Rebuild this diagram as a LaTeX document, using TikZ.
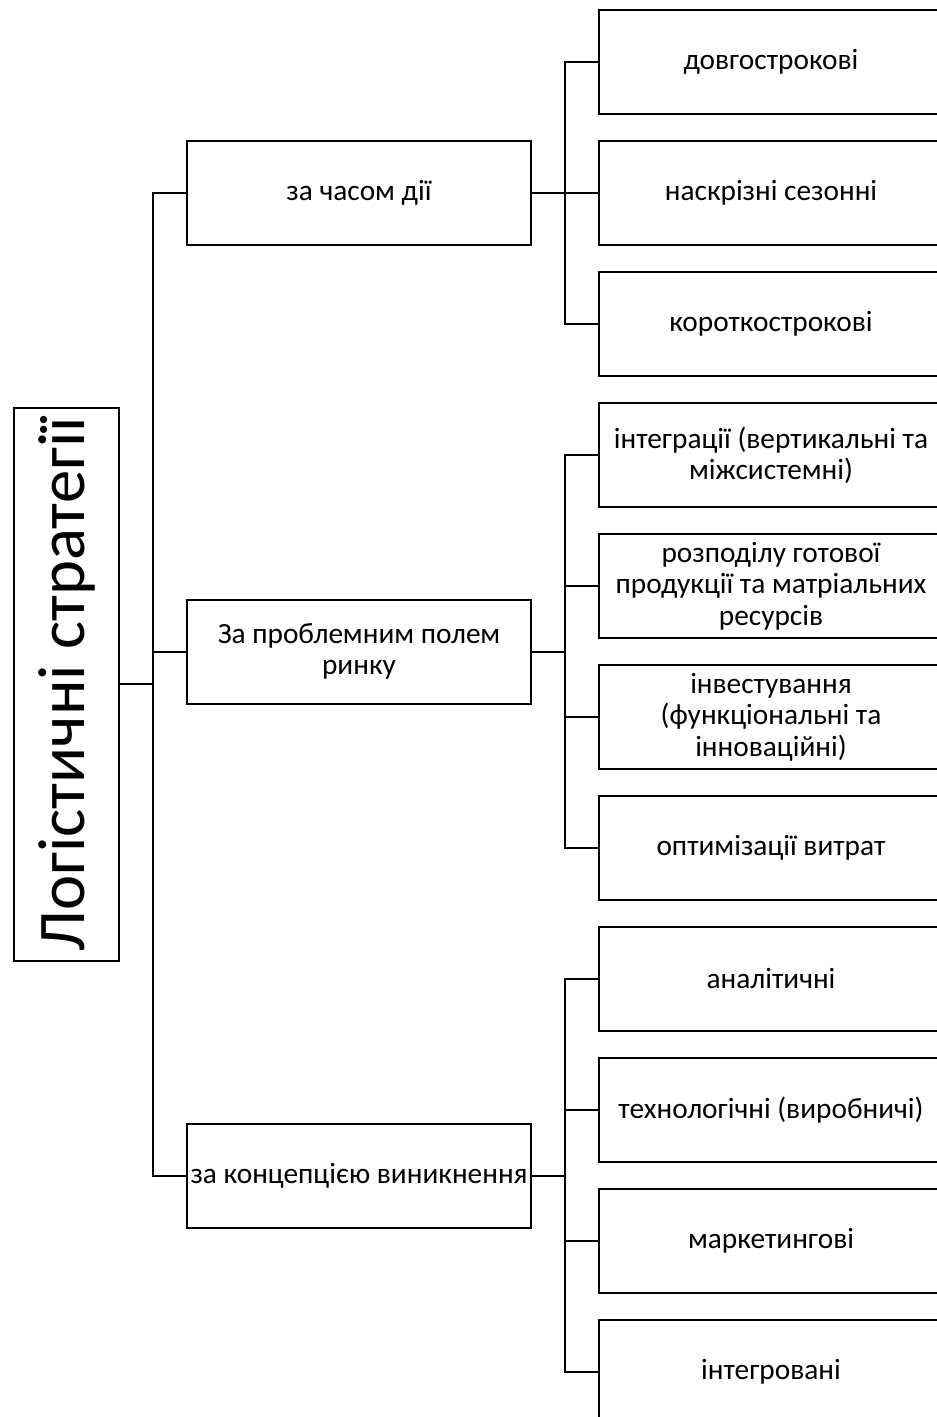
\documentclass[tikz,border=0pt]{standalone}
\usepackage{fontspec}
\setmainfont{Carlito}
\usetikzlibrary{positioning, calc}

\begin{document}
\begin{tikzpicture}[
    x=0.75pt, y=-0.75pt,
    node distance=18.75pt,
    box/.style={rectangle, draw, line width=1.5pt, text width=256pt, align=flush center, inner sep=1pt, minimum height=78pt, font=\fontsize{22}{23.5}\selectfont},
    line/.style={draw, line width=1.5pt}
]
    \useasboundingbox (0,0) rectangle (937,1417);
    \coordinate (trunk) at (153,0);
    \coordinate (sub) at (565,0);
    \coordinate (midcol) at (359,0);

    \node [box] (long) at (771,62) {довгострокові};
    \node [box, below=of long] (season) {наскрізні сезонні};
    \node [box, below=of season] (short) {короткострокові};
    \node [box, below=of short] (integr) {інтеграції (вертикальні та\\ міжсистемні)};
    \node [box, below=of integr] (distr) {розподілу готової\\ продукції та матріальних\\ ресурсів};
    \node [box, below=of distr] (invest) {інвестування\\ (функціональні та\\ інноваційні)};
    \node [box, below=of invest] (costs) {оптимізації витрат};
    \node [box, below=of costs] (analyt) {аналітичні};
    \node [box, below=of analyt] (techn) {технологічні (виробничі)};
    \node [box, below=of techn] (market) {маркетингові};
    \node [box, below=of market] (integrated) {інтегровані};

    \coordinate (c2) at ($(distr)!0.5!(invest)$);
    \coordinate (c3) at ($(techn)!0.5!(market)$);
    \node [box] (time) at (season -| midcol) {за часом дії};
    \node [box] (problem) at (c2 -| midcol) {За проблемним полем\\ ринку};
    \node [box, text width={}, minimum width=258pt] (concept) at (c3 -| midcol) {за концепцією виникнення};

    \coordinate (c1) at ($(time)!0.5!(concept)$);
    \node [draw, line width=1.5pt, rotate=90, minimum width=415pt, minimum height=79pt, inner sep=0pt, font=\fontsize{50}{54}\selectfont] (root) at (c1 -| 66.5,0) {Логістичні стратегії};

    \path [line] (root.south) -- (root -| trunk);
    \foreach \grp in {time, problem, concept}
        \path [line] (\grp.west) -| (root -| trunk);

    \path [line] (time.east) -- (time -| sub);
    \foreach \leaf in {long, season, short}
        \path [line] (\leaf.west) -| (time -| sub);
    \path [line] (problem.east) -- (problem -| sub);
    \foreach \leaf in {integr, distr, invest, costs}
        \path [line] (\leaf.west) -| (problem -| sub);
    \path [line] (concept.east) -- (concept -| sub);
    \foreach \leaf in {analyt, techn, market, integrated}
        \path [line] (\leaf.west) -| (concept -| sub);
\end{tikzpicture}
\end{document}
